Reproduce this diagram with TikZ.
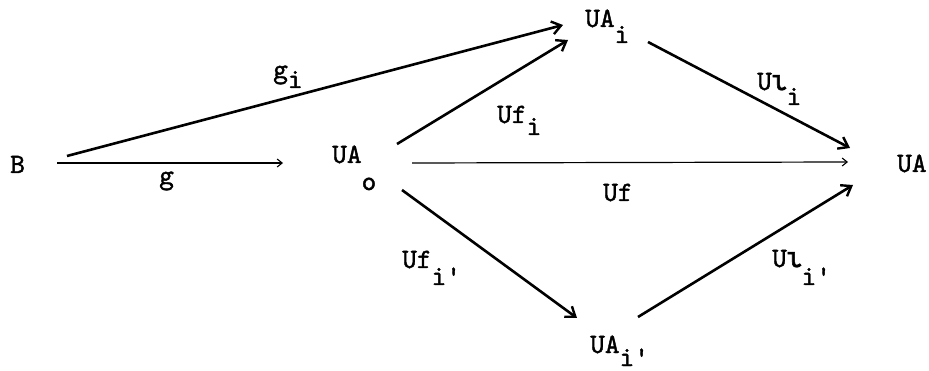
\documentclass[tikz,border=0pt]{standalone}
\usepackage{fontspec}
\usetikzlibrary{arrows.meta}
\newfontfamily\tw{lmmono10-regular.otf}[FakeBold=1.4]
\newfontfamily\gr{Liberation Mono}[FakeBold=2]
\newcommand\lowr[2][14pt]{\raisebox{-#1}{#2}}
\newcommand\iot{\makebox[0.525em]{\gr ι}}
\tikzset{
  lbl/.style={anchor=base west, inner sep=0pt, font=\tw\fontsize{28}{30}\selectfont},
  thickarr/.style={line width=2.6pt, -{Straight Barb[length=9pt,width=13pt,line width=2.4pt]}},
  thinarr/.style={line width=1.2pt, -{Straight Barb[length=5pt,width=8pt,line width=1.1pt]}}
}
\begin{document}
\begin{tikzpicture}[x=1pt,y=-1pt]
\useasboundingbox (0,0) rectangle (929,371);
% objects
\node[lbl] (B) at (10,173) {B};
\node[lbl] (UAo) at (332,163) {UA\lowr[27pt]{o}};
\node[lbl] (UAi) at (585,27) {UA\lowr[16pt]{i}};
\node[lbl] (UAip) at (590,353) {UA\lowr[13pt]{i'}};
\node[lbl] (UA) at (897,172) {UA};
% connector ends
\coordinate (g1) at (57,163);   \coordinate (g2) at (283,163);
\coordinate (gi1) at (67,156);  \coordinate (gi2) at (563,25);
\coordinate (ufi1) at (397,144); \coordinate (ufi2) at (568,40);
\coordinate (uf1) at (412,163); \coordinate (uf2) at (848,162);
\coordinate (ufp1) at (402,190); \coordinate (ufp2) at (577,318);
\coordinate (ui1) at (648,42);  \coordinate (ui2) at (850,148);
\coordinate (uip1) at (638,317); \coordinate (uip2) at (853,185);
% connectors
\draw[thinarr] (g1) -- (g2);
\draw[thickarr] (gi1) -- (gi2);
\draw[thickarr] (ufi1) -- (ufi2);
\draw[thinarr] (uf1) -- (uf2);
\draw[thickarr] (ufp1) -- (ufp2);
\draw[thickarr] (ui1) -- (ui2);
\draw[thickarr] (uip1) -- (uip2);
% labels
\node[lbl] (lg) at (159,184) {g};
\node[lbl] (lgi) at (273,78) {g\lowr[10pt]{i}};
\node[lbl] (lufi) at (497,123) {Uf\lowr[12pt]{i}};
\node[lbl] (luf) at (603,201) {Uf};
\node[lbl] (lufp) at (402,268) {Uf\lowr[17pt]{i'}};
\node[lbl] (lui) at (757,90) {U\iot\lowr[15pt]{i}};
\node[lbl] (luip) at (772,267) {U\iot\lowr[18pt]{i'}};
\end{tikzpicture}
\end{document}
